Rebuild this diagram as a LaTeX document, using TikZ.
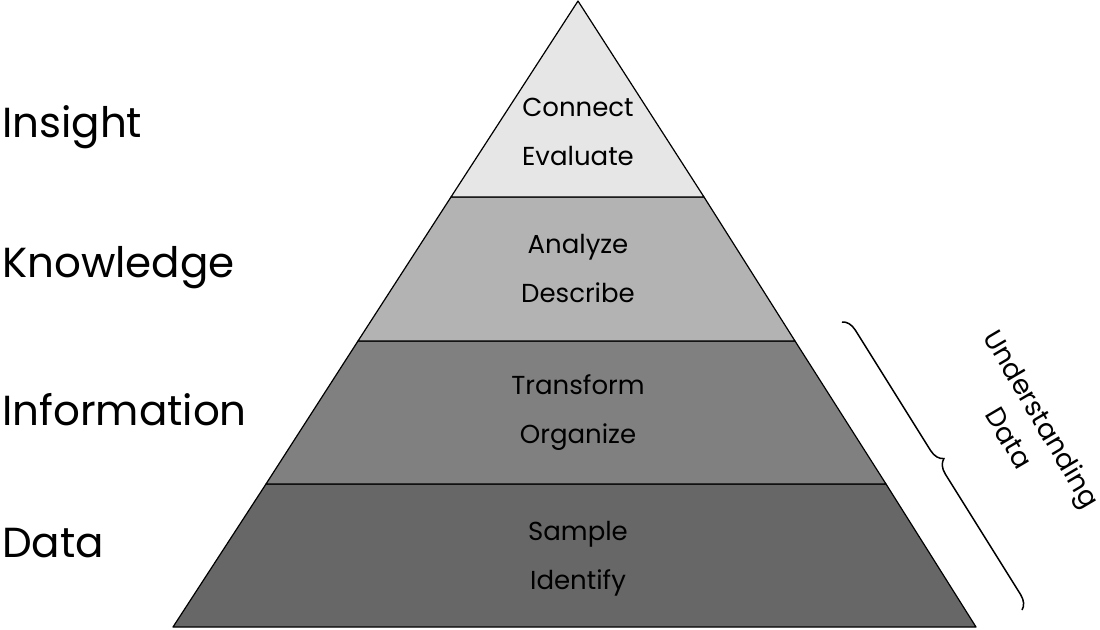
\documentclass[tikz,border=0pt]{standalone}
\usepackage{fontspec}
\setmainfont{Poppins}
\usetikzlibrary{decorations.pathreplacing}
\definecolor{lay1}{HTML}{E6E6E6}
\definecolor{lay2}{HTML}{B3B3B3}
\definecolor{lay3}{HTML}{808080}
\definecolor{lay4}{HTML}{676767}
\tikzset{
  layer/.style={draw=black, line width=1.2pt, line join=round},
  sidelabel/.style={anchor=west, inner sep=0pt, font=\fontsize{42}{44}\selectfont},
  inlabel/.style={align=center, inner sep=0pt, font=\fontsize{26}{49}\selectfont},
  bracelabel/.style={align=center, inner sep=0pt, font=\fontsize{27}{38}\selectfont, rotate=-59.5}
}
\begin{document}
\begin{tikzpicture}[x=1pt,y=-1pt]
\useasboundingbox (0,0) rectangle (1100,629);
% corner coordinates
\coordinate (apex) at (578,1);
\coordinate (l1) at (451,197); \coordinate (r1) at (704,197);
\coordinate (l2) at (358,341); \coordinate (r2) at (795,341);
\coordinate (l3) at (266,484); \coordinate (r3) at (886,484);
\coordinate (l4) at (173,627); \coordinate (r4) at (976,627);
% layers
\path[layer, fill=lay4] (l3) -- (r3) -- (r4) -- (l4) -- cycle;
\path[layer, fill=lay3] (l2) -- (r2) -- (r3) -- (l3) -- cycle;
\path[layer, fill=lay2] (l1) -- (r1) -- (r2) -- (l2) -- cycle;
\path[layer, fill=lay1] (apex) -- (r1) -- (l1) -- cycle;
% inner texts
\node[inlabel] (t1) at (578,132) {Connect\\Evaluate};
\node[inlabel] (t2) at (578,268) {Analyze\\Describe};
\node[inlabel] (t3) at (578,413) {Transform\\Organize};
\node[inlabel] (t4) at (578,559) {Sample\\Identify};
% side labels
\node[sidelabel] (s1) at (2,127) {Insight};
\node[sidelabel] (s2) at (2,268) {Knowledge};
\node[sidelabel] (s3) at (2,410) {Information};
\node[sidelabel] (s4) at (2,543) {Data};
% brace
\coordinate (ba) at (842,322);
\coordinate (bb) at (1022,610);
\draw[line width=1.5pt, decorate, decoration={brace, amplitude=14pt}] (ba) -- (bb);
\node[bracelabel] (bl) at (1026,428) {Understanding\\Data};
\end{tikzpicture}
\end{document}
